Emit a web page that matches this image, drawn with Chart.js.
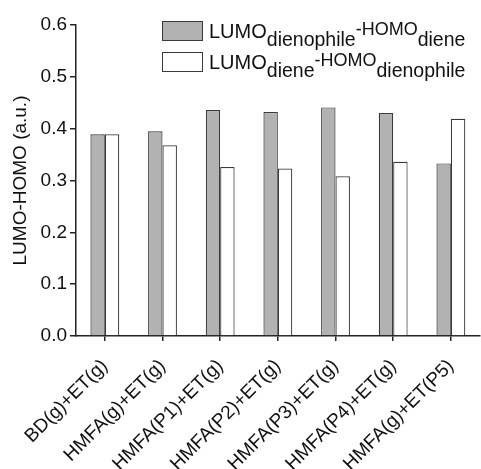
<!DOCTYPE html>
<html>
<head>
<meta charset="utf-8">
<script src="https://cdn.jsdelivr.net/npm/chart.js@4/dist/chart.umd.min.js"></script>
<style>
  html, body { margin: 0; padding: 0; background: #fff; }
  #wrap { width: 481px; height: 469px; }
</style>
</head>
<body>
<div id="wrap"><canvas id="chart" width="481" height="469"></canvas></div>
<script>
// categories and the two gap series (a.u.)
const categories = ['BD(g)+ET(g)', 'HMFA(g)+ET(g)', 'HMFA(P1)+ET(g)', 'HMFA(P2)+ET(g)',
  'HMFA(P3)+ET(g)', 'HMFA(P4)+ET(g)', 'HMFA(g)+ET(P5)'];
const dienophileDiene = [0.389, 0.395, 0.436, 0.432, 0.441, 0.430, 0.333];
const dieneDienophile = [0.389, 0.368, 0.326, 0.323, 0.308, 0.336, 0.419];
const yTicks = [0.0, 0.1, 0.2, 0.3, 0.4, 0.5, 0.6];

// legend text pieces: [text, kind] where kind is normal / sub / sup
const legendParts = [
  [['LUMO', 'n'], ['dienophile', 'sub'], ['-HOMO', 'sup'], ['diene', 'sub']],
  [['LUMO', 'n'], ['diene', 'sub'], ['-HOMO', 'sup'], ['dienophile', 'sub']]
];

const FONT = "'Liberation Sans', Arial, Helvetica, sans-serif";
const AXIS = '#222';

// draws the legend with sub/superscripts
const subLegend = {
  id: 'subLegend',
  afterDraw(chart) {
    const ctx = chart.ctx;
    ctx.save();
    chart.data.datasets.forEach((ds, i) => {
      const top = 21 + i * 31;
      ctx.fillStyle = ds.backgroundColor;
      ctx.fillRect(162, top, 41, 20);
      ctx.strokeStyle = ds.borderColor;
      ctx.lineWidth = 1;
      ctx.strokeRect(162.5, top + 0.5, 40, 19);

      let x = 209;
      const base = top + 17;
      ctx.fillStyle = '#111';
      ctx.textBaseline = 'alphabetic';
      ctx.textAlign = 'left';
      legendParts[i].forEach(([txt, kind]) => {
        let size = 20, dy = 0;
        if (kind === 'sub') { size = 19.5; dy = 8; }
        if (kind === 'sup') { size = 18; dy = -3; }
        ctx.font = size + 'px ' + FONT;
        ctx.fillText(txt, x, base + dy);
        x += ctx.measureText(txt).width;
      });
    });
    ctx.restore();
  }
};

const ctx = document.getElementById('chart').getContext('2d');
new Chart(ctx, {
  type: 'bar',
  data: {
    labels: categories,
    datasets: [{
      label: 'LUMOdienophile-HOMOdiene',
      data: dienophileDiene,
      backgroundColor: '#b2b2b2',
      borderColor: '#3a3a3a',
      borderWidth: 1.2
    }, {
      label: 'LUMOdiene-HOMOdienophile',
      data: dieneDienophile,
      backgroundColor: '#ffffff',
      borderColor: '#3a3a3a',
      borderWidth: 1.2
    }]
  },
  options: {
    responsive: false,
    animation: false,
    devicePixelRatio: 1,
    layout: { padding: { top: 25, right: 0, left: 0, bottom: 0 } },
    datasets: {
      bar: { categoryPercentage: 0.5, barPercentage: 1.0 }
    },
    plugins: {
      legend: { display: false },
      tooltip: { enabled: false }
    },
    scales: {
      x: {
        offset: true,
        grid: { display: true, offset: false, drawOnChartArea: false, drawTicks: true,
          tickLength: 5, color: AXIS, lineWidth: 1.5 },
        border: { display: true, color: AXIS, width: 1.5 },
        ticks: {
          color: '#111',
          font: { family: FONT, size: 19 },
          minRotation: 45,
          maxRotation: 45,
          padding: 14,
          autoSkip: false
        },
        afterFit(scale) { scale.height = 133; }
      },
      y: {
        min: 0,
        max: 0.6,
        grid: { display: true, drawOnChartArea: false, drawTicks: true,
          tickLength: 6, color: AXIS, lineWidth: 1.5 },
        border: { display: true, color: AXIS, width: 1.5 },
        afterBuildTicks(scale) { scale.ticks = yTicks.map(v => ({ value: v })); },
        ticks: {
          color: '#111',
          font: { family: FONT, size: 19 },
          padding: 3,
          callback: v => Number(v).toFixed(1)
        },
        title: {
          display: true,
          text: 'LUMO-HOMO (a.u.)',
          color: '#111',
          font: { family: FONT, size: 19 },
          padding: { top: 9, bottom: 0 }
        },
        afterFit(scale) { scale.width = 76; }
      }
    }
  },
  plugins: [subLegend]
});
</script>
</body>
</html>
